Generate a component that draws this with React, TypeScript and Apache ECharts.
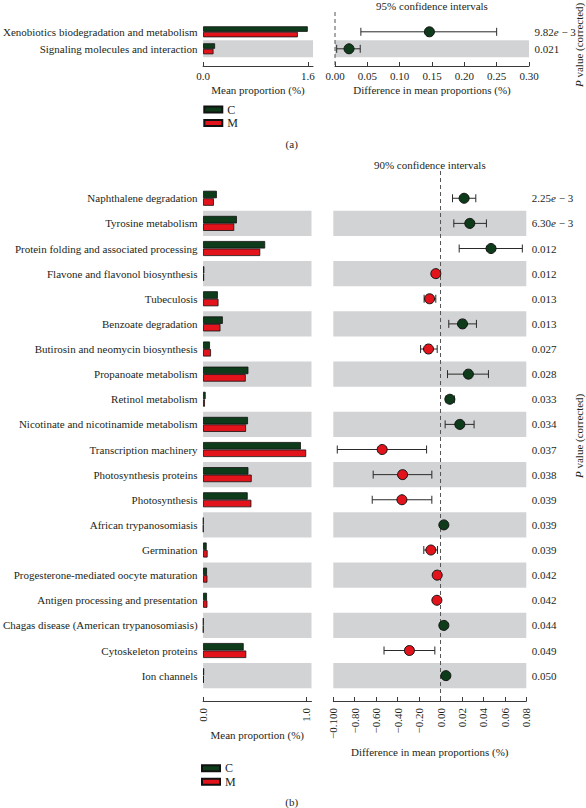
import React, { useEffect, useRef } from "react";
import * as echarts from "echarts";

// ---------- Panel (a) data ----------
const catsA = ["Xenobiotics biodegradation and metabolism", "Signaling molecules and interaction"];
const meanCA = [1.6, 0.183];
const meanMA = [1.448, 0.159];
const diffA = [0.146, 0.0217];
const ciLowA = [0.04, 0.0026];
const ciHighA = [0.25, 0.039];
const pA = ["9.82e − 3", "0.021"];

// ---------- Panel (b) data ----------
const catsB = [
  "Naphthalene degradation",
  "Tyrosine metabolism",
  "Protein folding and associated processing",
  "Flavone and flavonol biosynthesis",
  "Tubeculosis",
  "Benzoate degradation",
  "Butirosin and neomycin biosynthesis",
  "Propanoate metabolism",
  "Retinol metabolism",
  "Nicotinate and nicotinamide metabolism",
  "Transcription machinery",
  "Photosynthesis proteins",
  "Photosynthesis",
  "African trypanosomiasis",
  "Germination",
  "Progesterone-mediated oocyte maturation",
  "Antigen processing and presentation",
  "Chagas disease (American trypanosomiasis)",
  "Cytoskeleton proteins",
  "Ion channels",
];
const meanCB = [0.134, 0.329, 0.604, 0.012, 0.144, 0.192, 0.067, 0.441, 0.025, 0.437, 0.952, 0.441, 0.434, 0.004, 0.035, 0.038, 0.038, 0.004, 0.395, 0.01];
const meanMB = [0.105, 0.303, 0.556, 0.01, 0.15, 0.169, 0.077, 0.415, 0.018, 0.418, 1.003, 0.473, 0.47, 0.003, 0.044, 0.042, 0.042, 0.003, 0.42, 0.008];
const diffB = [0.022, 0.0273, 0.0471, -0.0044, -0.0102, 0.0205, -0.0112, 0.026, 0.0087, 0.018, -0.0544, -0.0354, -0.036, 0.0031, -0.009, -0.0031, -0.0034, 0.0031, -0.029, 0.005];
const ciLowB = [0.0112, 0.0124, 0.0174, -0.006, -0.0153, 0.0077, -0.0186, 0.0065, 0.0052, 0.0043, -0.0963, -0.0628, -0.0637, 0.0022, -0.0156, -0.004, -0.0043, 0.0022, -0.0527, 0.004];
const ciHighB = [0.0329, 0.0428, 0.0763, -0.003, -0.0044, 0.0335, -0.0031, 0.0447, 0.0128, 0.0313, -0.013, -0.0081, -0.0081, 0.004, -0.0028, -0.0022, -0.0025, 0.004, -0.0053, 0.006];
const pB = ["2.25e − 3", "6.30e − 3", "0.012", "0.012", "0.013", "0.013", "0.027", "0.028", "0.033", "0.034", "0.037", "0.038", "0.039", "0.039", "0.039", "0.042", "0.042", "0.044", "0.049", "0.050"];

// ---------- Tick values / labels ----------
const barTicksA = [0, 1.6];
const barTickLabelsA = ["0.0", "1.6"];
const barTicksB = [0, 1.0];
const barTickLabelsB = ["0.0", "1.0"];
const ciTicksA = [0, 0.05, 0.1, 0.15, 0.2, 0.25, 0.3];
const ciTickLabelsA = ["0.00", "0.05", "0.10", "0.15", "0.20", "0.25", "0.30"];
const ciTicksB = [-0.1, -0.08, -0.06, -0.04, -0.02, 0, 0.02, 0.04, 0.06, 0.08];
const ciTickLabelsB = ["−0.100", "−0.80", "−0.60", "−0.40", "−0.20", "0.00", "0.02", "0.04", "0.06", "0.08"];

const legendNames = ["C", "M"];

// ---------- Styles ----------
const GREEN = "#0e3c1b";
const RED = "#e3131b";
const BAND = "#d2d3d5";
const TXT = "#231f20";
const FONT = "'Liberation Serif', 'DejaVu Serif', serif";
const FS = 11;

function labelFor(ticks: number[], labels: string[]) {
  return (v: number) => {
    let best = 0;
    for (let i = 1; i < ticks.length; i++) {
      if (Math.abs(ticks[i] - v) < Math.abs(ticks[best] - v)) best = i;
    }
    return labels[best];
  };
}

const pFmt = (arr: string[]) => (_v: string, i: number) => arr[i].replace("e", "{i|e}");

export default function App() {
  const ref = useRef<HTMLDivElement>(null);

  useEffect(() => {
    if (!ref.current) return;
    const chart = echarts.init(ref.current, undefined, { renderer: "svg" });

    // layout
    const gA0 = { left: 203, top: 23.3, width: 110, height: 34 };
    const gA1 = { left: 335, top: 23.3, width: 194, height: 34 };
    const gB0 = { left: 201.5, top: 185.7, width: 110, height: 502.5 };
    const gB1 = { left: 333.3, top: 185.7, width: 193, height: 502.5 };
    const offA = 8.7;
    const offB = 12.8;

    const baseText = { fontFamily: FONT, fontSize: FS, color: TXT };

    const catAxis = (data: string[], gridIndex: number, isLeft: boolean, pvals?: string[]) => ({
      type: "category",
      gridIndex,
      data,
      inverse: true,
      position: isLeft ? "left" : "right",
      axisLine: { show: false },
      axisTick: { show: false },
      axisLabel: isLeft
        ? { ...baseText, margin: 5.5, interval: 0 }
        : {
            ...baseText,
            margin: 5.5,
            interval: 0,
            formatter: pFmt(pvals as string[]),
            rich: { i: { fontFamily: FONT, fontSize: FS, color: TXT, fontStyle: "italic" } },
          },
      splitLine: { show: false },
      splitArea: { show: true, interval: 0, areaStyle: { color: ["rgba(0,0,0,0)", BAND] } },
    });

    const valAxis = (
      gridIndex: number,
      min: number,
      max: number,
      ticks: number[],
      labels: string[],
      name: string,
      nameGap: number,
      offset: number,
      rotate: number,
      labelMargin: number
    ) => ({
      type: "value",
      gridIndex,
      min,
      max,
      offset,
      position: "bottom",
      name,
      nameLocation: "middle",
      nameGap,
      nameTextStyle: { ...baseText },
      axisLine: { show: true, lineStyle: { color: "#3a3a3a", width: 1 } },
      axisTick: { show: true, inside: true, length: 4, customValues: ticks, lineStyle: { color: "#3a3a3a" } },
      axisLabel: {
        ...baseText,
        customValues: ticks,
        rotate,
        margin: labelMargin,
        formatter: labelFor(ticks, labels),
      },
      splitLine: { show: false },
    });

    const errBar = (xIdx: number, low: number[], high: number[]) => ({
      type: "custom",
      xAxisIndex: xIdx,
      yAxisIndex: xIdx,
      z: 2,
      encode: { x: [0, 1], y: 2 },
      data: low.map((l, i) => [l, high[i], i]),
      renderItem: (_p: any, api: any) => {
        const y = api.value(2);
        const a = api.coord([api.value(0), y]);
        const b = api.coord([api.value(1), y]);
        const h = 4;
        const style = { stroke: "#2a2a2a", lineWidth: 1 };
        return {
          type: "group",
          children: [
            { type: "line", shape: { x1: a[0], y1: a[1], x2: b[0], y2: b[1] }, style },
            { type: "line", shape: { x1: a[0], y1: a[1] - h, x2: a[0], y2: a[1] + h }, style },
            { type: "line", shape: { x1: b[0], y1: b[1] - h, x2: b[0], y2: b[1] + h }, style },
          ],
        };
      },
    });

    const dots = (xIdx: number, diff: number[]) => ({
      type: "scatter",
      xAxisIndex: xIdx,
      yAxisIndex: xIdx,
      z: 3,
      symbol: "circle",
      symbolSize: 10,
      data: diff.map((d, i) => ({
        value: [d, i],
        itemStyle: { color: d >= 0 ? GREEN : RED, borderColor: "#111", borderWidth: 1, opacity: 1 },
      })),
    });

    const bars = (xIdx: number, name: string, vals: number[], color: string, bw: number) => ({
      type: "bar",
      name,
      xAxisIndex: xIdx,
      yAxisIndex: xIdx,
      data: vals,
      barWidth: bw,
      barGap: "0%",
      itemStyle: { color, borderColor: "#111", borderWidth: 0.8 },
    });

    const legendCfg = (left: number, top: number) => ({
      data: legendNames,
      orient: "vertical",
      left,
      top,
      itemWidth: 18,
      itemHeight: 6,
      itemGap: 1.4,
      icon: "rect",
      selectedMode: false,
      padding: 0,
      textStyle: { ...baseText, fontSize: 12, lineHeight: 12 },
    });

    chart.setOption({
      animation: false,
      textStyle: { fontFamily: FONT, color: TXT },
      grid: [
        { ...gA0, containLabel: false },
        { ...gA1, containLabel: false },
        { ...gB0, containLabel: false },
        { ...gB1, containLabel: false },
      ],
      xAxis: [
        valAxis(0, 0, 1.68, barTicksA, barTickLabelsA, "Mean proportion (%)", 18.5, offA, 0, 4.5),
        valAxis(1, 0, 0.3, ciTicksA, ciTickLabelsA, "Difference in mean proportions (%)", 18.5, offA, 0, 4.5),
        valAxis(2, 0, 1.055, barTicksB, barTickLabelsB, "Mean proportion (%)", 24, offB, 90, 7),
        valAxis(3, -0.1, 0.08, ciTicksB, ciTickLabelsB, "Difference in mean proportions (%)", 39.5, offB, 90, 7),
      ],
      yAxis: [
        catAxis(catsA, 0, true),
        catAxis(catsA, 1, false, pA),
        catAxis(catsB, 2, true),
        catAxis(catsB, 3, false, pB),
      ],
      legend: [legendCfg(203.3, 103.5), legendCfg(201, 762.3)],
      series: [
        bars(0, "C", meanCA, GREEN, 5.5),
        bars(0, "M", meanMA, RED, 5.5),
        errBar(1, ciLowA, ciHighA),
        dots(1, diffA),
        bars(2, "C", meanCB, GREEN, 7.5),
        bars(2, "M", meanMB, RED, 7.5),
        errBar(3, ciLowB, ciHighB),
        dots(3, diffB),
      ],
    });

    // zero reference lines placed through the axes' own scales
    const zeroA = chart.convertToPixel({ xAxisIndex: 1 }, 0) as number;
    const zeroB = chart.convertToPixel({ xAxisIndex: 3 }, 0) as number;
    const dashed = { stroke: "#555", lineWidth: 1, lineDash: [4, 3] };
    const txt = (text: string, x: number, y: number, extra: any = {}) => ({
      type: "text",
      x,
      y,
      style: { text, fontFamily: FONT, fontSize: FS, fill: TXT, align: "center", verticalAlign: "middle", ...extra },
    });
    const pLabel = (x: number, y: number) => ({
      type: "text",
      x,
      y,
      rotation: Math.PI / 2,
      style: {
        text: "{i|P} value (corrected)",
        fontFamily: FONT,
        fontSize: FS,
        fill: TXT,
        align: "left",
        verticalAlign: "middle",
        rich: { i: { fontStyle: "italic", fontFamily: FONT, fontSize: FS, fill: TXT } },
      },
    });

    chart.setOption({
      graphic: [
        { type: "line", z: 1, shape: { x1: zeroA, y1: 12, x2: zeroA, y2: gA1.top + gA1.height + offA }, style: dashed },
        { type: "line", z: 1, shape: { x1: zeroB, y1: 171, x2: zeroB, y2: gB1.top + gB1.height + offB }, style: dashed },
        txt("95% confidence intervals", gA1.left + gA1.width / 2, 0, { verticalAlign: "top" }),
        txt("90% confidence intervals", gB1.left + gB1.width / 2, 165),
        pLabel(579, 87),
        pLabel(579, 478),
        txt("(a)", 291.7, 144),
        txt("(b)", 291.7, 802),
      ],
    });

    return () => chart.dispose();
  }, []);

  return <div ref={ref} style={{ position: "absolute", left: 0, top: 0, width: 586, height: 808 }} />;
}
